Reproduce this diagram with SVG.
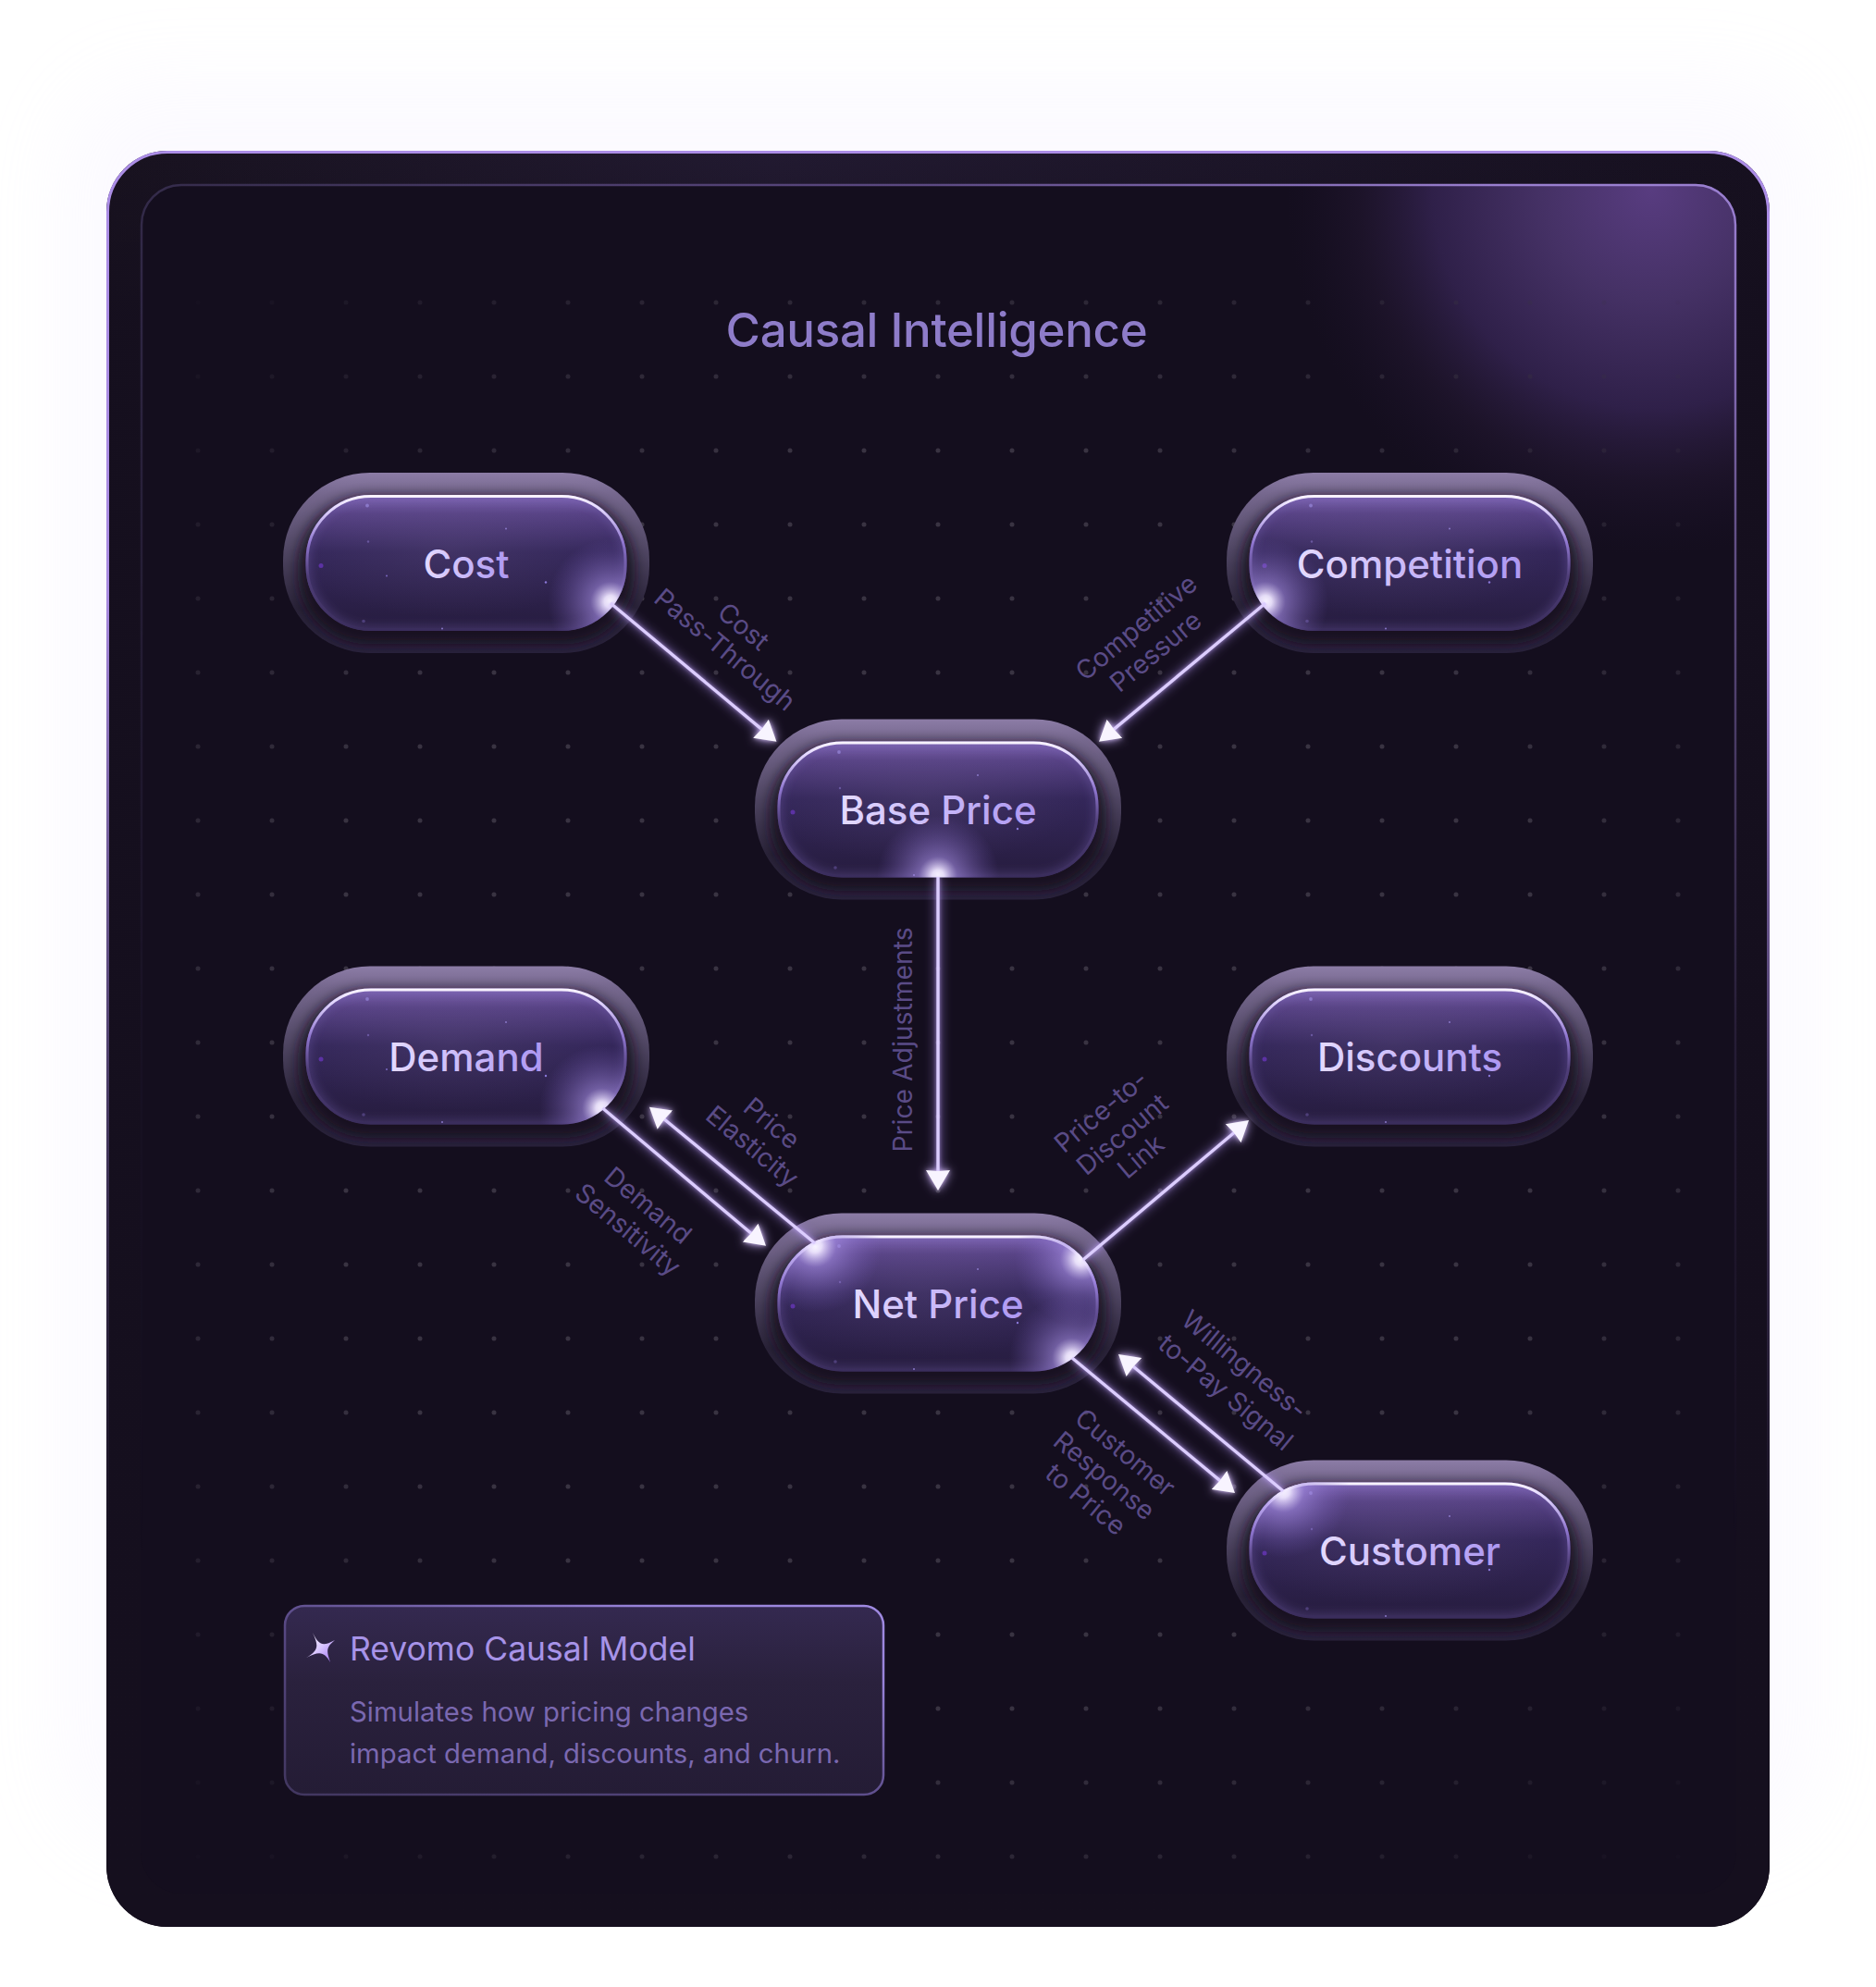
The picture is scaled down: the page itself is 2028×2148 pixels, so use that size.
<svg xmlns="http://www.w3.org/2000/svg" width="2028" height="2148" viewBox="0 0 2028 2148">
<style>
text{font-family:"Inter","Noto Sans","Liberation Sans",sans-serif}
.nl{font-size:42px;font-weight:500;fill:url(#txt);text-anchor:middle}
.el{font-size:28.300px;fill:#5a4b86;text-anchor:middle}
.ln{stroke:#dccdff;stroke-width:3.400;fill:none;marker-end:url(#arrow)}
</style>
<defs>
<linearGradient id="txt" x1="0" y1="0" x2="1" y2="0"><stop offset="0" stop-color="#e4daff"/><stop offset="1" stop-color="#ad97f1"/></linearGradient>
<linearGradient id="cardF" x1="0" y1="0" x2="1" y2="0"><stop offset="0" stop-color="#18121f"/><stop offset=".4" stop-color="#221a31"/><stop offset="1" stop-color="#16101f"/></linearGradient>
<linearGradient id="cardFade" x1="0" y1="163" x2="0" y2="2083" gradientUnits="userSpaceOnUse"><stop offset="0" stop-color="#150f1e" stop-opacity="0"/><stop offset=".1" stop-color="#150f1e" stop-opacity=".9"/><stop offset="1" stop-color="#150f1e"/></linearGradient>
<linearGradient id="cardS" x1="0" y1="163" x2="0" y2="2083" gradientUnits="userSpaceOnUse"><stop offset="0" stop-color="#ab8de6"/><stop offset=".25" stop-color="#a88ae0"/><stop offset=".55" stop-color="#7e67ad" stop-opacity=".45"/><stop offset=".8" stop-color="#5a4a80" stop-opacity="0"/></linearGradient>
<linearGradient id="panelS" x1="152" y1="0" x2="1877" y2="0" gradientUnits="userSpaceOnUse"><stop offset="0" stop-color="#342b4a"/><stop offset=".5" stop-color="#5d4a84"/><stop offset=".85" stop-color="#9a7fd0"/><stop offset="1" stop-color="#9a7fd0"/></linearGradient>
<linearGradient id="panelS2" x1="0" y1="199" x2="0" y2="2047" gradientUnits="userSpaceOnUse"><stop offset="0" stop-color="#fff"/><stop offset=".2" stop-color="#999"/><stop offset=".5" stop-color="#222"/><stop offset=".8" stop-color="#000"/></linearGradient>
<mask id="panelM" maskUnits="userSpaceOnUse" x="100" y="150" width="1830" height="1950"><rect x="100" y="150" width="1830" height="1950" fill="url(#panelS2)"/></mask>
<radialGradient id="corner" cx="1785" cy="205" r="395" gradientUnits="userSpaceOnUse"><stop offset="0" stop-color="#583c80"/><stop offset=".3" stop-color="#453165"/><stop offset=".6" stop-color="#2f2049"/><stop offset=".8" stop-color="#21162f" stop-opacity=".65"/><stop offset="1" stop-color="#1a1128" stop-opacity="0"/></radialGradient>
<clipPath id="panelC"><rect x="152" y="199" width="1725" height="1848" rx="44"/></clipPath>
<filter id="pageBlur" x="-10%" y="-10%" width="120%" height="120%"><feGaussianBlur stdDeviation="45"/></filter>
<pattern id="dots" x="254" y="327" width="80" height="80" patternUnits="userSpaceOnUse"><circle cx="40" cy="0" r="2.500" fill="#393342"/><circle cx="40" cy="80" r="2.500" fill="#393342"/></pattern>
<radialGradient id="dotFade" cx="1014" cy="1160" r="1" gradientUnits="userSpaceOnUse" gradientTransform="translate(1014 1160) scale(1150 1150) translate(-1014 -1160)"><stop offset="0" stop-color="#fff"/><stop offset=".6" stop-color="#fff"/><stop offset="1" stop-color="#111"/></radialGradient>
<mask id="dotM" maskUnits="userSpaceOnUse" x="152" y="199" width="1725" height="1848"><rect x="152" y="199" width="1725" height="1848" fill="url(#dotFade)"/></mask>

<linearGradient id="ring" x1="0" y1="0" x2="0" y2="1"><stop offset="0" stop-color="#8c7ca6"/><stop offset=".12" stop-color="#75678d"/><stop offset=".4" stop-color="#544a68"/><stop offset=".75" stop-color="#2a2339"/><stop offset="1" stop-color="#2c2440"/></linearGradient>
<linearGradient id="pillF" x1="0" y1="0" x2="0" y2="1"><stop offset="0" stop-color="#7d64b2"/><stop offset=".14" stop-color="#574285"/><stop offset=".42" stop-color="#34275a"/><stop offset="1" stop-color="#261c3e"/></linearGradient>
<linearGradient id="pillS" x1="0" y1="0" x2="0" y2="1"><stop offset="0" stop-color="#f8f3ff"/><stop offset=".08" stop-color="#e6dbff"/><stop offset=".35" stop-color="#8f76cf"/><stop offset=".6" stop-color="#4f3e78"/><stop offset="1" stop-color="#3a2d5c"/></linearGradient>
<radialGradient id="sheen" cx=".45" cy=".4" r=".5"><stop offset="0" stop-color="#7c6a9a" stop-opacity=".18"/><stop offset="1" stop-color="#7c6a9a" stop-opacity="0"/></radialGradient>
<radialGradient id="hot"><stop offset="0" stop-color="#fff"/><stop offset=".1" stop-color="#efe7ff" stop-opacity=".95"/><stop offset=".32" stop-color="#a88fe8" stop-opacity=".55"/><stop offset="1" stop-color="#7a5fc0" stop-opacity="0"/></radialGradient>
<clipPath id="pillC"><rect x="-173.500" y="-73.500" width="347" height="147" rx="70"/></clipPath>
<clipPath id="ringC"><rect x="-198" y="-97.500" width="396" height="195" rx="94"/></clipPath>
<filter id="b5" x="-20%" y="-30%" width="140%" height="160%"><feGaussianBlur stdDeviation="5"/></filter>
<filter id="b8" x="-20%" y="-30%" width="140%" height="160%"><feGaussianBlur stdDeviation="7"/></filter>
<g id="pill">
 <rect x="-198" y="-97.500" width="396" height="195" rx="94" fill="url(#ring)"/>
 <g clip-path="url(#ringC)"><rect x="-182" y="-72" width="364" height="160" rx="76" fill="#120c1c" opacity=".85" filter="url(#b8)"/></g>
 <rect x="-173.500" y="-73.500" width="347" height="147" rx="70" fill="url(#pillF)"/>
 <rect x="-173.500" y="-73.500" width="347" height="147" rx="70" fill="url(#sheen)"/>
 <g clip-path="url(#pillC)"><rect x="-173.500" y="-73.500" width="347" height="147" rx="70" fill="none" stroke="#8a70cc" stroke-opacity=".24" stroke-width="12" filter="url(#b5)"/></g>
 <rect x="-172" y="-72" width="344" height="144" rx="69" fill="none" stroke="url(#pillS)" stroke-width="3"/>
 <g>
  <circle cx="-107" cy="-62" r="1.900" fill="#8a78c8"/><circle cx="-157" cy="3" r="2.500" fill="#5c32a4"/><circle cx="-106" cy="-23" r="1.200" fill="#6a58a0"/><circle cx="43" cy="-37" r="1" fill="#8a78c8"/><circle cx="-86" cy="14" r="1" fill="#7a68c0"/><circle cx="86" cy="21" r="1.200" fill="#8a78d8"/><circle cx="-26" cy="71" r="1" fill="#8a78c8"/><circle cx="-111" cy="63" r="1.800" fill="#4e3f7a"/>
 </g>
</g>
<marker id="arrow" markerUnits="userSpaceOnUse" viewBox="0 -14 26 28" markerWidth="26" markerHeight="28" refX="5" refY="0" orient="auto"><path d="M0 -13 L22 0 L0 13 L1 0 Z" fill="#f8f4ff"/></marker>
<filter id="glow" filterUnits="userSpaceOnUse" x="0" y="0" width="2028" height="2148"><feGaussianBlur in="SourceGraphic" stdDeviation="6" result="g"/><feColorMatrix in="g" type="matrix" values="0.65 0 0 0 0 0 0.5 0 0 0 0 0 1 0 0 0 0 0 1 0" result="c"/><feGaussianBlur in="SourceGraphic" stdDeviation="2" result="g2"/><feColorMatrix in="g2" type="matrix" values="0.8 0 0 0 0 0 0.65 0 0 0 0 0 1 0 0 0 0 0 .7 0" result="c2"/><feMerge><feMergeNode in="c"/><feMergeNode in="c2"/><feMergeNode in="SourceGraphic"/></feMerge></filter>
<linearGradient id="legF" x1="0" y1="0" x2="0" y2="1"><stop offset="0" stop-color="#342950"/><stop offset=".4" stop-color="#2a213d"/><stop offset="1" stop-color="#241c35"/></linearGradient>
<linearGradient id="legS" x1="0" y1="1" x2="1" y2="0"><stop offset="0" stop-color="#41365f"/><stop offset=".45" stop-color="#574883"/><stop offset=".8" stop-color="#9883da"/><stop offset="1" stop-color="#a08ae2"/></linearGradient>
<linearGradient id="star" x1="0" y1="0" x2="1" y2="1"><stop offset="0" stop-color="#fff"/><stop offset=".5" stop-color="#d9c6ff"/><stop offset="1" stop-color="#9a6cf0"/></linearGradient>
</defs>

<g id="background">
 <rect width="2028" height="2148" fill="#fff"/>
 <rect x="70" y="90" width="1888" height="1900" rx="90" fill="#e8dfff" opacity=".16" filter="url(#pageBlur)"/>
</g>
<g id="card">
 <rect x="115" y="163" width="1798" height="1920" rx="66" fill="url(#cardF)"/>
 <rect x="115" y="163" width="1798" height="1920" rx="66" fill="url(#cardFade)"/>
 <rect x="116.500" y="164.500" width="1795" height="1917" rx="64.500" fill="none" stroke="url(#cardS)" stroke-width="3"/>
 <rect x="152" y="199" width="1725" height="1848" rx="44" fill="#140e1e"/>
 <g clip-path="url(#panelC)"><circle cx="1785" cy="205" r="395" fill="url(#corner)"/></g>
 <rect x="153" y="200" width="1723" height="1846" rx="43" fill="none" stroke="url(#panelS)" stroke-width="2.500" mask="url(#panelM)"/>
 <rect x="200" y="310" width="1630" height="1720" fill="url(#dots)" mask="url(#dotM)"/>
</g>
<text id="title" x="1012.500" y="375" font-size="51" font-weight="500" letter-spacing="-.3" fill="#8e7cc9" text-anchor="middle">Causal Intelligence</text>

<g id="node-cost" transform="translate(504 608.500)"><use href="#pill"/><circle cx="156" cy="42" r="68" fill="url(#hot)" clip-path="url(#pillC)"/><text class="nl" y="16">Cost</text></g>
<g id="node-competition" transform="translate(1524 608.500)"><use href="#pill"/><circle cx="-156" cy="42" r="68" fill="url(#hot)" clip-path="url(#pillC)"/><text class="nl" y="16">Competition</text></g>
<g id="node-base-price" transform="translate(1014 875)"><use href="#pill"/><circle cx="0" cy="72" r="66" fill="url(#hot)" clip-path="url(#pillC)"/><text class="nl" y="16">Base Price</text></g>
<g id="node-demand" transform="translate(504 1142)"><use href="#pill"/><circle cx="147" cy="56" r="68" fill="url(#hot)" clip-path="url(#pillC)"/><text class="nl" y="16">Demand</text></g>
<g id="node-discounts" transform="translate(1524 1142)"><use href="#pill"/><text class="nl" y="16">Discounts</text></g>
<g id="node-net-price" transform="translate(1014 1409)"><use href="#pill"/><g clip-path="url(#pillC)"><circle cx="-133" cy="-62" r="72" fill="url(#hot)"/><circle cx="155" cy="-48" r="72" fill="url(#hot)"/><circle cx="145" cy="59" r="68" fill="url(#hot)"/></g><text class="nl" y="16">Net Price</text></g>
<g id="node-customer" transform="translate(1524 1676)"><use href="#pill"/><circle cx="-137" cy="-64" r="72" fill="url(#hot)" clip-path="url(#pillC)"/><text class="nl" y="16">Customer</text></g>

<g id="connectors" filter="url(#glow)">
 <line class="ln" x1="660" y1="652" x2="826.400" y2="790.900"/>
 <line class="ln" x1="1368" y1="652" x2="1201.100" y2="790.900"/>
 <line class="ln" x1="1014" y1="948" x2="1014" y2="1270"/>
 <line class="ln" x1="651.500" y1="1198" x2="815" y2="1335.800"/>
 <line class="ln" x1="881" y1="1344" x2="715.100" y2="1207.500"/>
 <line class="ln" x1="1171" y1="1361.700" x2="1337" y2="1222"/>
 <line class="ln" x1="1159" y1="1468" x2="1321.900" y2="1603.100"/>
 <line class="ln" x1="1387" y1="1611.700" x2="1222.100" y2="1474.800"/>
</g>
<g id="connector-labels">
 <text class="el" dy=".36em" transform="translate(804 677) rotate(39.8)">Cost</text>
 <text class="el" dy=".36em" transform="translate(784 702) rotate(39.8)">Pass-Through</text>
 <text class="el" dy=".36em" transform="translate(1228 678) rotate(-39.8)">Competitive</text>
 <text class="el" dy=".36em" transform="translate(1249 704) rotate(-39.8)">Pressure</text>
 <text class="el" dy=".36em" transform="translate(975.500 1124) rotate(-90)">Price Adjustments</text>
 <text class="el" dy=".36em" transform="translate(834.600 1214) rotate(39.7)">Price</text>
 <text class="el" dy=".36em" transform="translate(813.600 1239) rotate(39.7)">Elasticity</text>
 <text class="el" dy=".36em" transform="translate(700.800 1302.700) rotate(39.7)">Demand</text>
 <text class="el" dy=".36em" transform="translate(679 1329) rotate(39.7)">Sensitivity</text>
 <text class="el" dy=".36em" transform="translate(1190 1201) rotate(-40)">Price-to-</text>
 <text class="el" dy=".36em" transform="translate(1213 1226) rotate(-40)">Discount</text>
 <text class="el" dy=".36em" transform="translate(1233 1250) rotate(-40)">Link</text>
 <text class="el" dy=".36em" transform="translate(1345.600 1475) rotate(39.6)">Willingness-</text>
 <text class="el" dy=".36em" transform="translate(1325.400 1505) rotate(39.6)">to-Pay Signal</text>
 <text class="el" dy=".36em" transform="translate(1216.600 1570) rotate(39.6)">Customer</text>
 <text class="el" dy=".36em" transform="translate(1194 1595) rotate(39.6)">Response</text>
 <text class="el" dy=".36em" transform="translate(1174 1620.700) rotate(39.6)">to Price</text>
</g>
<g id="legend">
 <rect x="308" y="1736" width="647" height="204" rx="21" fill="url(#legF)" stroke="url(#legS)" stroke-width="2.500"/>
 <path d="M338 1765 C345 1779 349 1780 362 1773 C352 1781 353 1785 357 1797 C351 1786 346 1784 331 1792 C344 1784 345 1780 338 1765 Z" fill="url(#star)"/>
 <text x="378" y="1795" font-size="35.500" fill="#a793e8">Revomo Causal Model</text>
 <text x="378" y="1861" font-size="29.300" fill="#7a68b0">Simulates how pricing changes</text>
 <text x="378" y="1906" font-size="29.300" fill="#7a68b0">impact demand, discounts, and churn.</text>
</g>
</svg>
